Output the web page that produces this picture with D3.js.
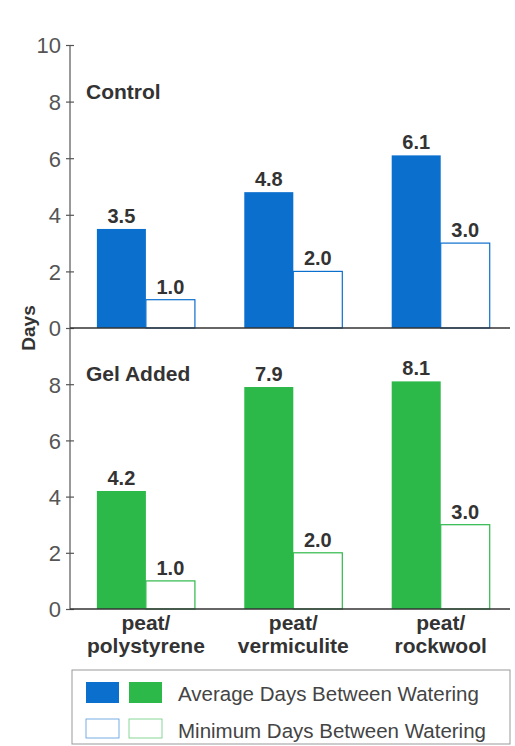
<!DOCTYPE html>
<html>
<head>
<meta charset="utf-8">
<script src="https://cdn.jsdelivr.net/npm/d3@7"></script>
<style>
  body { margin: 0; background: #fff; }
  svg { display: block; font-family: "Liberation Sans", Arial, sans-serif; }
</style>
</head>
<body>
<svg width="515" height="746"></svg>
<script>
// Data
const categories = [["peat/", "polystyrene"], ["peat/", "vermiculite"], ["peat/", "rockwool"]];
const panelNames = ["Control", "Gel Added"];
const controlAverage = [3.5, 4.8, 6.1];
const controlMinimum = [1.0, 2.0, 3.0];
const gelAverage = [4.2, 7.9, 8.1];
const gelMinimum = [1.0, 2.0, 3.0];
const topTicks = [0, 2, 4, 6, 8, 10];
const bottomTicks = [0, 2, 4, 6, 8];
const legendLabels = ["Average Days Between Watering", "Minimum Days Between Watering"];

const blue = "#0b6fce";
const green = "#2db84a";

const svg = d3.select("svg");

const x = d3.scaleBand()
  .domain(d3.range(categories.length))
  .range([70, 510])
  .paddingInner(0.335)
  .paddingOuter(0.16)
  .align(0.57);

const xSub = d3.scaleBand()
  .domain(["avg", "min"])
  .range([0, x.bandwidth()]);

const panels = [
  { name: panelNames[0], avg: controlAverage, min: controlMinimum, color: blue, ticks: topTicks,
    y: d3.scaleLinear().domain([0, 10]).range([328, 45]) },
  { name: panelNames[1], avg: gelAverage, min: gelMinimum, color: green, ticks: bottomTicks,
    y: d3.scaleLinear().domain([0, 10]).range([609, 328]) }
];

// Shared vertical axis line
svg.append("line")
  .attr("x1", 70).attr("x2", 70)
  .attr("y1", panels[0].y(10)).attr("y2", panels[1].y(0))
  .attr("stroke", "#555").attr("stroke-width", 1.2);

panels.forEach(p => {
  const g = svg.append("g");

  // Y axis ticks (crossing the axis line)
  const ax = g.append("g")
    .attr("transform", "translate(70,0)")
    .call(d3.axisLeft(p.y).tickValues(p.ticks).tickSize(4).tickPadding(5).tickFormat(d3.format("d")));
  ax.select(".domain").remove();
  ax.selectAll(".tick line").attr("x1", 4).attr("x2", -4).attr("stroke", "#555").attr("stroke-width", 1.2);
  ax.selectAll(".tick text")
    .attr("fill", "#555")
    .style("font-size", "22px")
    .style("font-family", "'Liberation Sans', Arial, sans-serif")
    .attr("dy", "0.36em");

  // Panel title
  g.append("text")
    .attr("x", 86)
    .attr("y", p.y(8.1))
    .attr("fill", "#333")
    .attr("font-weight", "bold")
    .attr("font-size", 21)
    .text(p.name);

  const groups = g.selectAll(".grp")
    .data(d3.range(categories.length))
    .join("g")
    .attr("transform", i => `translate(${x(i)},0)`);

  // Average bars
  groups.append("rect")
    .attr("x", xSub("avg"))
    .attr("y", i => p.y(p.avg[i]))
    .attr("width", xSub.bandwidth())
    .attr("height", i => p.y(0) - p.y(p.avg[i]))
    .attr("fill", p.color);

  // Minimum bars
  groups.append("rect")
    .attr("x", xSub("min"))
    .attr("y", i => p.y(p.min[i]))
    .attr("width", xSub.bandwidth())
    .attr("height", i => p.y(0) - p.y(p.min[i]))
    .attr("fill", "#fff")
    .attr("stroke", p.color)
    .attr("stroke-width", 1.2);

  // Value labels
  groups.append("text")
    .attr("x", xSub("avg") + xSub.bandwidth() / 2)
    .attr("y", i => p.y(p.avg[i]) - 6)
    .attr("text-anchor", "middle")
    .attr("fill", "#333").attr("font-weight", "bold").attr("font-size", 20)
    .text(i => p.avg[i].toFixed(1));

  groups.append("text")
    .attr("x", xSub("min") + xSub.bandwidth() / 2)
    .attr("y", i => p.y(p.min[i]) - 6)
    .attr("text-anchor", "middle")
    .attr("fill", "#333").attr("font-weight", "bold").attr("font-size", 20)
    .text(i => p.min[i].toFixed(1));

  // Baseline
  g.append("line")
    .attr("x1", 70).attr("x2", 510)
    .attr("y1", p.y(0)).attr("y2", p.y(0))
    .attr("stroke", "#333").attr("stroke-width", 1.5);
});

// Y axis label
svg.append("text")
  .attr("transform", `translate(35,${panels[0].y(0)}) rotate(-90)`)
  .attr("text-anchor", "middle")
  .attr("fill", "#333").attr("font-weight", "bold").attr("font-size", 19)
  .text("Days");

// Category labels
const catLabels = svg.selectAll(".cat")
  .data(categories)
  .join("text")
  .attr("text-anchor", "middle")
  .attr("fill", "#333").attr("font-weight", "bold").attr("font-size", 21)
  .attr("transform", (d, i) => `translate(${x(i) + x.bandwidth() / 2},630)`);
catLabels.selectAll("tspan")
  .data(d => d)
  .join("tspan")
  .attr("x", 0)
  .attr("y", (d, j) => j * 23)
  .text(d => d);

// Legend
const legend = svg.append("g");
legend.append("rect")
  .attr("x", 72).attr("y", 670)
  .attr("width", 438).attr("height", 74)
  .attr("fill", "#fff").attr("stroke", "#999").attr("stroke-width", 1);

const legendRows = [
  { y: 682, h: 21, filled: true, label: legendLabels[0], base: 701 },
  { y: 719, h: 19, filled: false, label: legendLabels[1], base: 738 }
];
legendRows.forEach(r => {
  [blue, green].forEach((c, k) => {
    legend.append("rect")
      .attr("x", 86 + k * 43).attr("y", r.y)
      .attr("width", 33).attr("height", r.h)
      .attr("fill", r.filled ? c : "#fff")
      .attr("stroke", r.filled ? "none" : c)
      .attr("stroke-width", 0.8)
      .attr("stroke-opacity", 0.7);
  });
  legend.append("text")
    .attr("x", 178).attr("y", r.base)
    .attr("fill", "#444").attr("font-size", 20.5)
    .text(r.label);
});
</script>
</body>
</html>
